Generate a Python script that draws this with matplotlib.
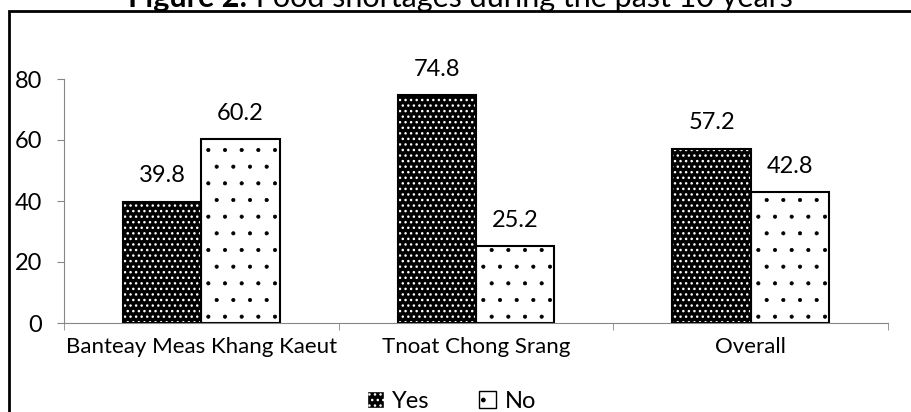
import matplotlib.pyplot as plt
import numpy as np
from matplotlib.patches import Rectangle, Patch

plt.rcParams['font.family'] = ['Lato', 'DejaVu Sans']

categories = ['Banteay Meas Khang Kaeut', 'Tnoat Chong Srang', 'Overall']
yes_vals = [39.8, 74.8, 57.2]
no_vals = [60.2, 25.2, 42.8]
yticks = [0, 20, 40, 60, 80]

grey = '#868686'
fs = 17

fig = plt.figure(figsize=(9.12, 4.12), dpi=100)
ax = fig.add_axes([64 / 912, 1 - 323 / 412, (888 - 64) / 912, (323 - 79) / 412])

x = np.arange(len(categories))
w = 0.285

# "Yes": black bars with a dense white dot pattern
with plt.rc_context({'hatch.linewidth': 1.0}):
    ax.bar(x - w / 2, yes_vals, w, color='black', edgecolor='black', linewidth=1.2, zorder=2)
    ax.bar(x - w / 2, yes_vals, w, color='none', edgecolor='white', hatch='...', linewidth=0, zorder=3)
ax.bar(x - w / 2, yes_vals, w, color='none', edgecolor='black', linewidth=1.5, zorder=4)

# "No": white bars with sparse small black dots
with plt.rc_context({'hatch.linewidth': 0.5}):
    ax.bar(x + w / 2, no_vals, w, color='white', edgecolor='black', hatch='.', linewidth=1.5, zorder=2)

for xi, v in zip(np.concatenate([x - w / 2, x + w / 2]), yes_vals + no_vals):
    ax.annotate(f'{v:.1f}', (xi, v), xytext=(0, 11), textcoords='offset points',
                ha='center', va='bottom', fontsize=fs)

ax.set_xlim(-0.5, len(categories) - 0.5)
ax.set_ylim(0, 80)
ax.set_yticks(yticks)
ax.set_yticklabels([str(t) for t in yticks], fontsize=fs)
ax.tick_params(axis='y', length=5, color=grey, pad=11)

ax.set_xticks(x)
ax.set_xticklabels(categories, fontsize=16)
ax.tick_params(axis='x', length=0, pad=10)
ax.set_xticks(np.arange(len(categories) + 1) - 0.5, minor=True)
ax.tick_params(axis='x', which='minor', length=5, color=grey)

for side in ['top', 'right']:
    ax.spines[side].set_visible(False)
for side in ['left', 'bottom']:
    ax.spines[side].set_color(grey)

# title: bold prefix + regular text, centred together, partly above the canvas
title_y = 1 - 7 / 412
t_bold = fig.text(0, title_y, 'Figure 2:', fontsize=22, fontweight='bold', va='baseline')
t_rest = fig.text(0, title_y, ' Food shortages during the past 10 years', fontsize=22, va='baseline')
r = fig.canvas.get_renderer()
wb = t_bold.get_window_extent(r).width / fig.bbox.width
wr = t_rest.get_window_extent(r).width / fig.bbox.width
x0 = 0.505 - (wb + wr) / 2
t_bold.set_x(x0)
t_rest.set_x(x0 + wb)

# outer frame of the chart area
fig.patches.append(Rectangle((9 / 912, -0.1), 1.2, 1 - 11 / 412 + 0.1,
                             transform=fig.transFigure, fill=False,
                             edgecolor='black', linewidth=2))

with plt.rc_context({'hatch.linewidth': 0.6}):
    handles = [Patch(facecolor='black', edgecolor='white', hatch='...'),
               Patch(facecolor='white', edgecolor='black', hatch='.')]
fig.legend(handles, ['Yes', 'No'], loc='center', bbox_to_anchor=(0.495, 1 - 401 / 412),
           ncol=2, frameon=False, fontsize=fs, handlelength=0.72, handleheight=0.72,
           handletextpad=0.35, columnspacing=2.1)

fig.savefig('out.png', dpi=100)
